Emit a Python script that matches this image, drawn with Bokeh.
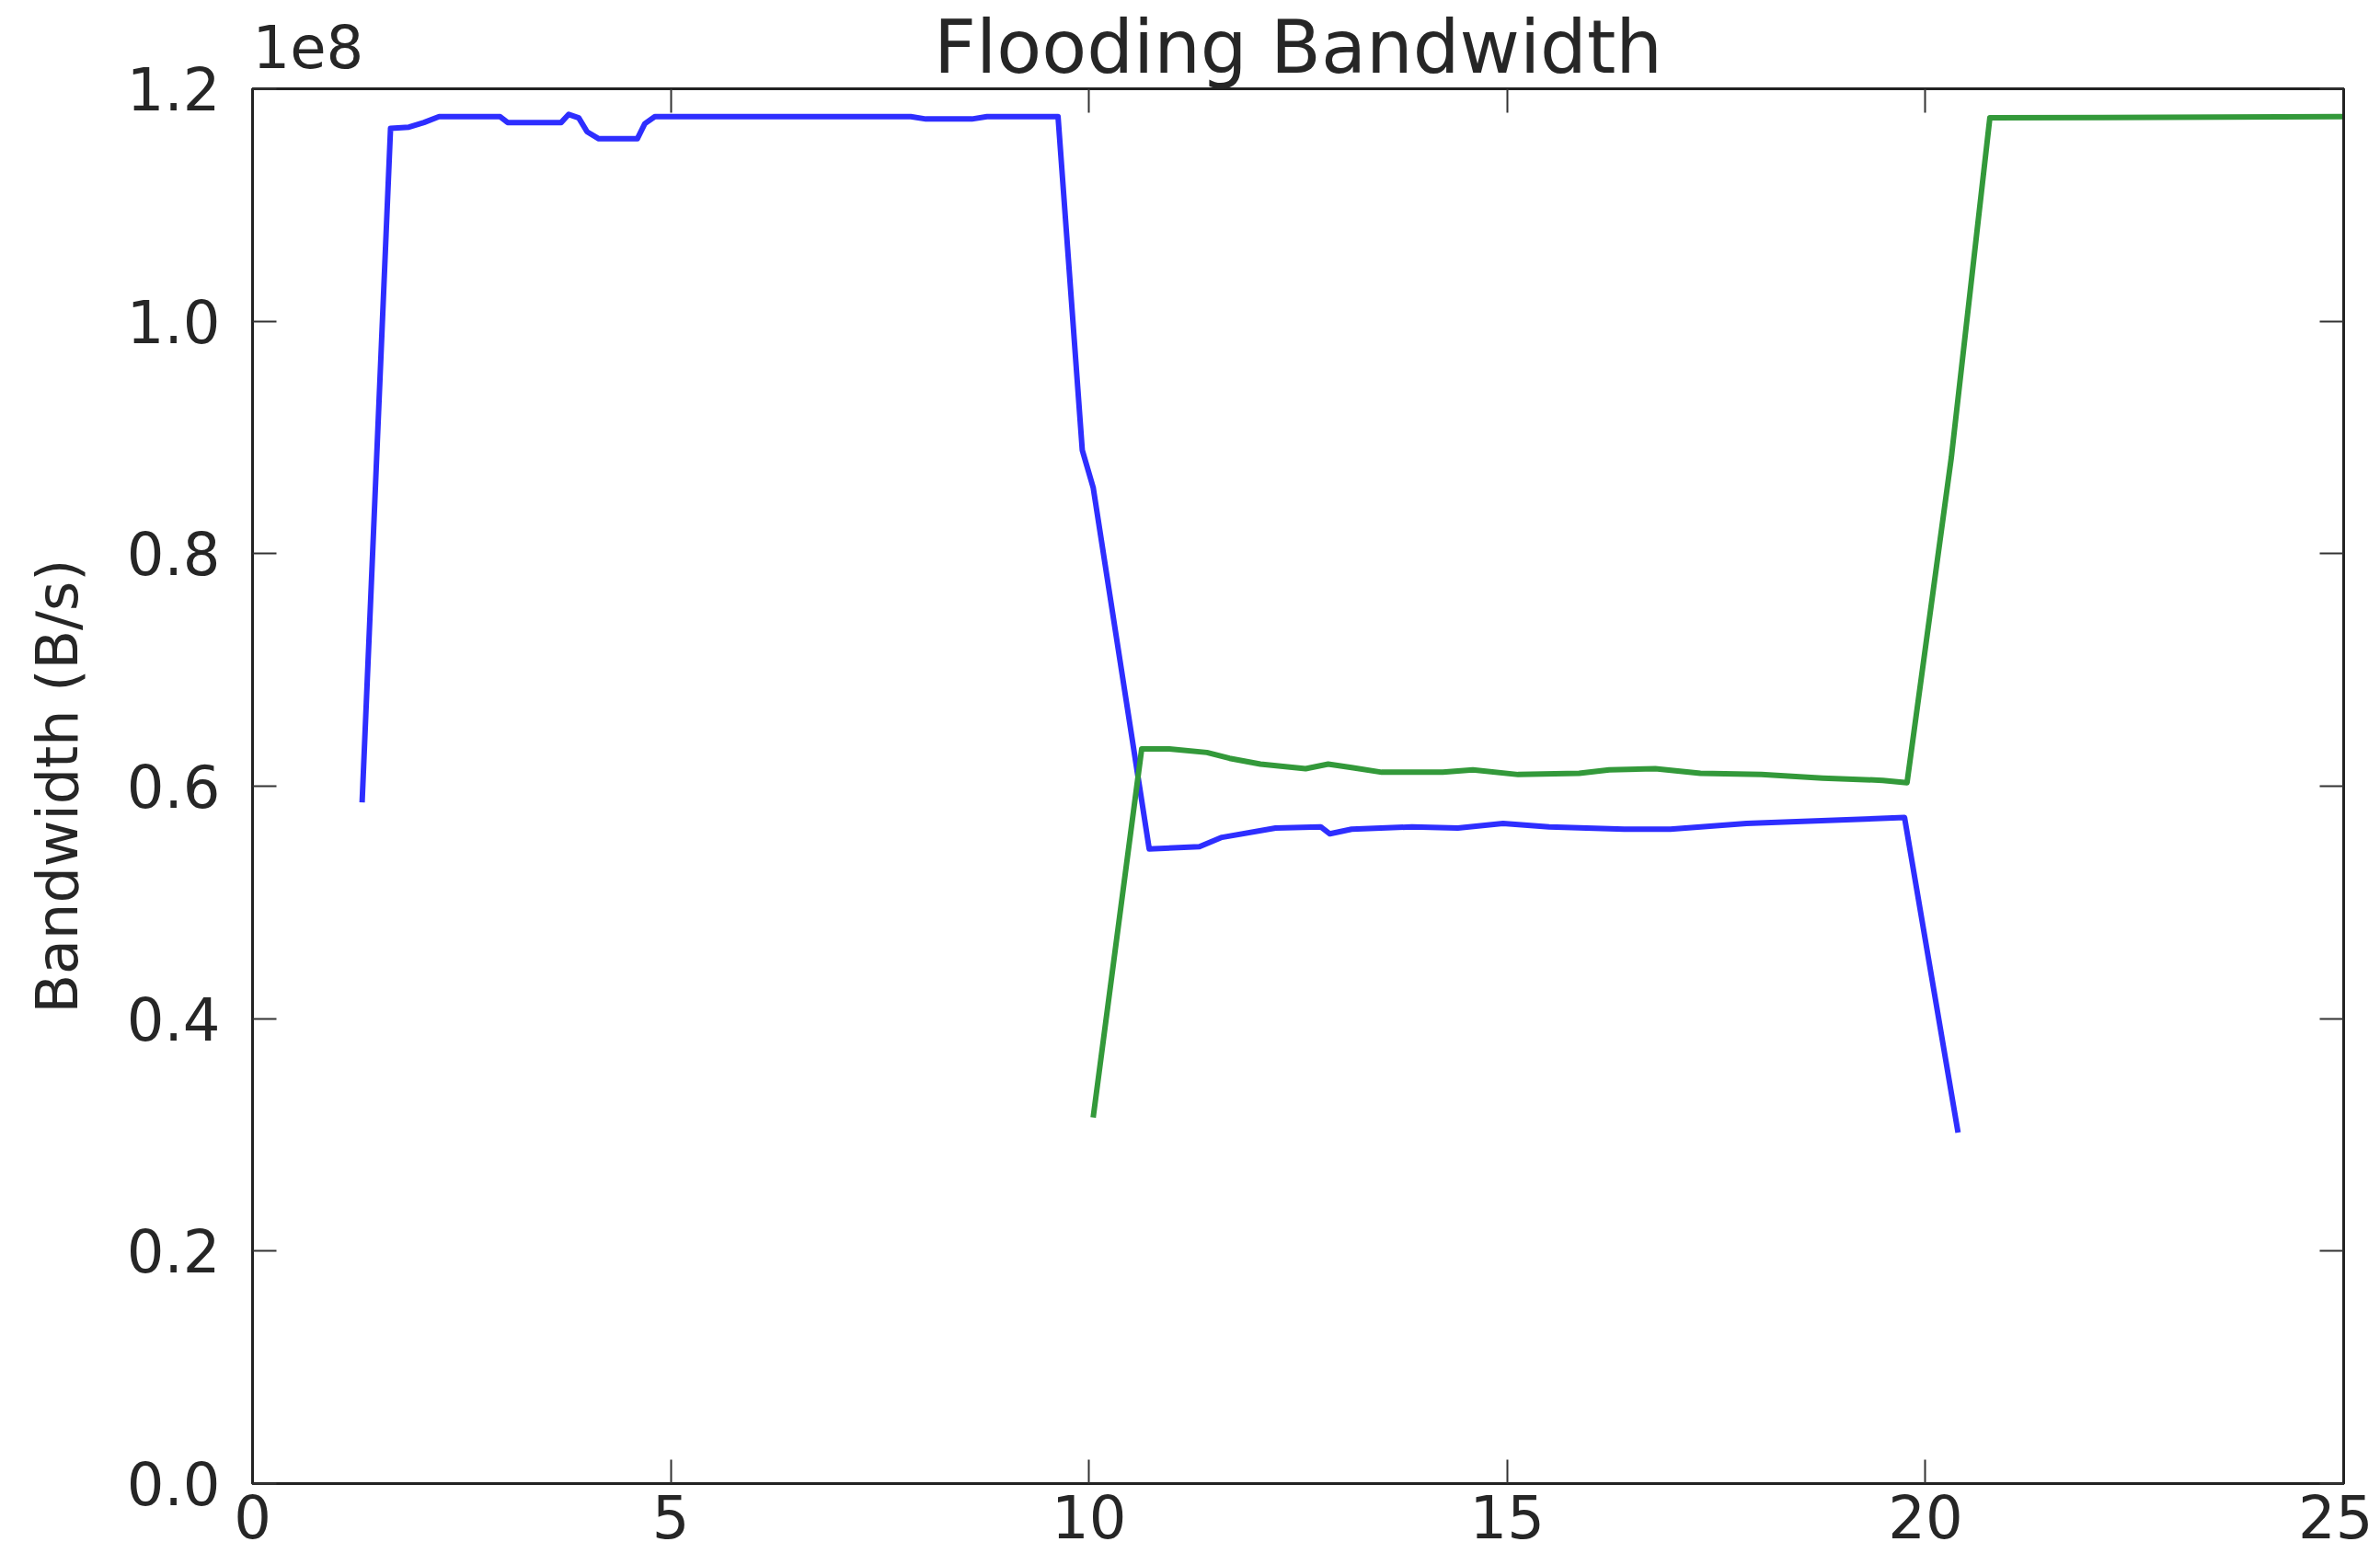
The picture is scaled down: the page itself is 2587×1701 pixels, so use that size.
from bokeh.plotting import figure
from bokeh.models import LinearAxis, FixedTicker, Range1d, CustomJSTickFormatter
from bokeh.embed import file_html
from bokeh.resources import INLINE

# ---- data (time in s, bandwidth in B/s) ----
blue_x = [1.31, 1.65, 1.87, 2.05, 2.23, 2.96, 3.05, 3.69, 3.78, 3.90, 4.00, 4.14, 4.60, 4.69, 4.81,
          7.87, 8.05, 8.60, 8.78, 9.63, 9.92, 10.05, 10.72, 11.32, 11.59, 12.23, 12.77, 12.88, 13.14,
          13.86, 14.41, 14.95, 15.50, 16.40, 16.95, 17.86, 19.75, 20.39]
blue_y = [0.586e8, 1.166e8, 1.167e8, 1.171e8, 1.176e8, 1.176e8, 1.171e8, 1.171e8, 1.178e8, 1.175e8,
          1.163e8, 1.157e8, 1.157e8, 1.170e8, 1.176e8, 1.176e8, 1.174e8, 1.174e8, 1.176e8, 1.176e8,
          0.889e8, 0.857e8, 0.546e8, 0.548e8, 0.556e8, 0.564e8, 0.565e8, 0.559e8, 0.563e8, 0.565e8,
          0.564e8, 0.568e8, 0.565e8, 0.563e8, 0.563e8, 0.568e8, 0.573e8, 0.302e8]

green_x = [10.05, 10.63, 10.96, 11.41, 11.68, 12.05, 12.59, 12.86, 13.14, 13.50, 14.23, 14.59, 15.13,
           15.86, 16.22, 16.77, 17.31, 18.04, 18.77, 19.49, 19.78, 20.31, 20.77, 25.0]
green_y = [0.315e8, 0.632e8, 0.632e8, 0.629e8, 0.624e8, 0.619e8, 0.615e8, 0.619e8, 0.616e8, 0.612e8,
           0.612e8, 0.614e8, 0.610e8, 0.611e8, 0.614e8, 0.615e8, 0.611e8, 0.610e8, 0.607e8, 0.605e8,
           0.603e8, 0.883e8, 1.175e8, 1.176e8]

x_ticks = [0, 5, 10, 15, 20, 25]
y_ticks = [0, 2e7, 4e7, 6e7, 8e7, 1e8, 1.2e8]

title_text = "Flooding Bandwidth"
y_label = "Bandwidth (B/s)"
exp_text = "1e8"

FONT = "DejaVu Sans"
TXT = "#262626"

p = figure(width=2579, height=1699, output_backend="svg", toolbar_location=None,
           x_range=Range1d(0, 25), y_range=Range1d(0, 1.2e8),
           min_border_left=274, min_border_right=32, min_border_top=96, min_border_bottom=87)
p.grid.visible = False
p.outline_line_color = "#222222"
p.outline_line_width = 3
p.background_fill_color = "white"
p.border_fill_color = "white"

p.line(blue_x, blue_y, line_color="#2e2eff", line_width=6, line_join="round")
p.line(green_x, green_y, line_color="#33993a", line_width=6, line_join="round")

yfmt = CustomJSTickFormatter(code="return (tick/1e8).toFixed(1);")
blank = CustomJSTickFormatter(code="return '';")
expfmt = CustomJSTickFormatter(args=dict(t=exp_text), code="return tick == 0 ? t : '';")

def style(ax, ticks, show_labels):
    ax.ticker = FixedTicker(ticks=ticks)
    ax.major_tick_in = 26
    ax.major_tick_out = 0
    ax.minor_tick_in = 0
    ax.minor_tick_out = 0
    ax.major_tick_line_color = "#333333"
    ax.major_tick_line_width = 2
    ax.axis_line_color = "#222222"
    ax.axis_line_width = 3
    if show_labels:
        ax.major_label_text_font = FONT
        ax.major_label_text_font_size = "64px"
        ax.major_label_text_color = TXT
        ax.major_label_standoff = 12
    else:
        ax.formatter = blank
        ax.major_label_standoff = 0

xa = p.xaxis[0]
ya = p.yaxis[0]
style(xa, x_ticks, True)
style(ya, y_ticks, True)
ya.major_label_standoff = 35
ya.formatter = yfmt
ya.axis_label = y_label
ya.axis_label_text_font = FONT
ya.axis_label_text_font_size = "62px"
ya.axis_label_text_font_style = "normal"
ya.axis_label_text_color = TXT
ya.axis_label_standoff = 36

# top axis: inward ticks, the "1e8" offset text as its first label, and the title as its axis label
top = LinearAxis()
style(top, x_ticks, True)
top.formatter = expfmt
top.major_label_text_font_size = "64px"
top.major_label_orientation = 1e-6
top.major_label_standoff = 46
top.axis_label = title_text
top.axis_label_text_font = FONT
top.axis_label_text_font_size = "80px"
top.axis_label_text_font_style = "normal"
top.axis_label_text_color = TXT
top.axis_label_text_line_height = 0.85
top.axis_label_standoff = -98
p.add_layout(top, "above")

right = LinearAxis()
style(right, y_ticks, False)
p.add_layout(right, "right")

open("out.html", "w").write(file_html(p, INLINE))
